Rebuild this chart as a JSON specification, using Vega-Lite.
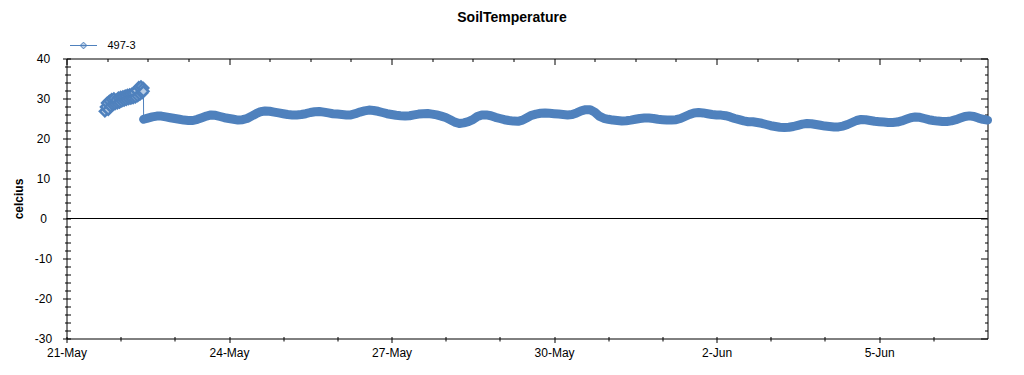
{
  "$schema": "https://vega.github.io/schema/vega-lite/v6.json",
  "width": 921,
  "height": 280,
  "autosize": {"type": "none"},
  "padding": {"left": 66.5, "top": 58.5, "right": 36.5, "bottom": 36.5},
  "background": "white",
  "config": {
    "view": {"stroke": "black", "strokeWidth": 1},
    "font": "Liberation Sans"
  },
  "title": {
    "text": "SoilTemperature",
    "font": "Liberation Sans",
    "fontSize": 14,
    "fontWeight": "bold",
    "color": "black",
    "anchor": "middle",
    "frame": "group",
    "dx": -15,
    "offset": 7
  },
  "data": {
    "values": [
      {"t": "2011-05-21T17:00", "v": 26.8}, {"t": "2011-05-21T17:30", "v": 27.9}, {"t": "2011-05-21T18:00", "v": 28.9}, {"t": "2011-05-21T18:30", "v": 27.2},
      {"t": "2011-05-21T19:00", "v": 29.4}, {"t": "2011-05-21T19:30", "v": 28.0}, {"t": "2011-05-21T20:00", "v": 29.8}, {"t": "2011-05-21T20:30", "v": 28.4},
      {"t": "2011-05-21T21:00", "v": 30.0}, {"t": "2011-05-21T21:30", "v": 28.6}, {"t": "2011-05-21T22:00", "v": 29.6}, {"t": "2011-05-21T22:30", "v": 28.8},
      {"t": "2011-05-21T23:00", "v": 30.2}, {"t": "2011-05-21T23:30", "v": 29.0}, {"t": "2011-05-22T00:00", "v": 30.4}, {"t": "2011-05-22T00:30", "v": 29.3},
      {"t": "2011-05-22T01:00", "v": 30.5}, {"t": "2011-05-22T01:30", "v": 29.5}, {"t": "2011-05-22T02:00", "v": 30.7}, {"t": "2011-05-22T02:30", "v": 29.7},
      {"t": "2011-05-22T03:00", "v": 30.9}, {"t": "2011-05-22T03:30", "v": 29.9}, {"t": "2011-05-22T04:00", "v": 31.0}, {"t": "2011-05-22T04:30", "v": 30.0},
      {"t": "2011-05-22T05:00", "v": 31.2}, {"t": "2011-05-22T05:30", "v": 30.1}, {"t": "2011-05-22T06:00", "v": 31.4}, {"t": "2011-05-22T06:30", "v": 30.3},
      {"t": "2011-05-22T07:00", "v": 32.0}, {"t": "2011-05-22T07:30", "v": 30.6}, {"t": "2011-05-22T08:00", "v": 32.8}, {"t": "2011-05-22T08:30", "v": 31.0},
      {"t": "2011-05-22T09:00", "v": 33.0}, {"t": "2011-05-22T09:30", "v": 31.4}, {"t": "2011-05-22T10:00", "v": 32.6}, {"t": "2011-05-22T10:05", "v": 31.8},
      {"t": "2011-05-22T10:10", "v": 24.8}, {"t": "2011-05-22T12:00", "v": 25.1}, {"t": "2011-05-22T14:00", "v": 25.4}, {"t": "2011-05-22T16:00", "v": 25.6},
      {"t": "2011-05-22T18:00", "v": 25.6}, {"t": "2011-05-22T20:00", "v": 25.4}, {"t": "2011-05-22T22:00", "v": 25.2},
      {"t": "2011-05-23T00:00", "v": 25.0}, {"t": "2011-05-23T02:00", "v": 24.8}, {"t": "2011-05-23T04:00", "v": 24.6}, {"t": "2011-05-23T06:00", "v": 24.5},
      {"t": "2011-05-23T08:00", "v": 24.5}, {"t": "2011-05-23T10:00", "v": 24.8}, {"t": "2011-05-23T12:00", "v": 25.2}, {"t": "2011-05-23T14:00", "v": 25.6},
      {"t": "2011-05-23T16:00", "v": 25.9}, {"t": "2011-05-23T18:00", "v": 25.8}, {"t": "2011-05-23T20:00", "v": 25.5}, {"t": "2011-05-23T22:00", "v": 25.2},
      {"t": "2011-05-24T00:00", "v": 25.0}, {"t": "2011-05-24T02:00", "v": 24.8}, {"t": "2011-05-24T04:00", "v": 24.6}, {"t": "2011-05-24T06:00", "v": 24.7},
      {"t": "2011-05-24T08:00", "v": 25.0}, {"t": "2011-05-24T10:00", "v": 25.6}, {"t": "2011-05-24T12:00", "v": 26.2}, {"t": "2011-05-24T14:00", "v": 26.7},
      {"t": "2011-05-24T16:00", "v": 26.9}, {"t": "2011-05-24T18:00", "v": 26.8}, {"t": "2011-05-24T20:00", "v": 26.6}, {"t": "2011-05-24T22:00", "v": 26.4},
      {"t": "2011-05-25T00:00", "v": 26.2}, {"t": "2011-05-25T02:00", "v": 26.0}, {"t": "2011-05-25T04:00", "v": 25.9}, {"t": "2011-05-25T06:00", "v": 25.9},
      {"t": "2011-05-25T08:00", "v": 26.0}, {"t": "2011-05-25T10:00", "v": 26.2}, {"t": "2011-05-25T12:00", "v": 26.5}, {"t": "2011-05-25T14:00", "v": 26.7},
      {"t": "2011-05-25T16:00", "v": 26.75}, {"t": "2011-05-25T18:00", "v": 26.6}, {"t": "2011-05-25T20:00", "v": 26.4}, {"t": "2011-05-25T22:00", "v": 26.2},
      {"t": "2011-05-26T00:00", "v": 26.1}, {"t": "2011-05-26T02:00", "v": 26.0}, {"t": "2011-05-26T04:00", "v": 25.9}, {"t": "2011-05-26T06:00", "v": 25.9},
      {"t": "2011-05-26T08:00", "v": 26.2}, {"t": "2011-05-26T10:00", "v": 26.6}, {"t": "2011-05-26T12:00", "v": 26.9}, {"t": "2011-05-26T14:00", "v": 27.1},
      {"t": "2011-05-26T16:00", "v": 27.0}, {"t": "2011-05-26T18:00", "v": 26.8}, {"t": "2011-05-26T20:00", "v": 26.5}, {"t": "2011-05-26T22:00", "v": 26.2},
      {"t": "2011-05-27T00:00", "v": 26.0}, {"t": "2011-05-27T02:00", "v": 25.8}, {"t": "2011-05-27T04:00", "v": 25.7}, {"t": "2011-05-27T06:00", "v": 25.65},
      {"t": "2011-05-27T08:00", "v": 25.7}, {"t": "2011-05-27T10:00", "v": 25.9}, {"t": "2011-05-27T12:00", "v": 26.1}, {"t": "2011-05-27T14:00", "v": 26.2},
      {"t": "2011-05-27T16:00", "v": 26.25}, {"t": "2011-05-27T18:00", "v": 26.1}, {"t": "2011-05-27T20:00", "v": 25.9}, {"t": "2011-05-27T22:00", "v": 25.6},
      {"t": "2011-05-28T00:00", "v": 25.25}, {"t": "2011-05-28T02:00", "v": 24.7}, {"t": "2011-05-28T04:00", "v": 24.1}, {"t": "2011-05-28T06:00", "v": 23.75},
      {"t": "2011-05-28T08:00", "v": 23.9}, {"t": "2011-05-28T10:00", "v": 24.2}, {"t": "2011-05-28T12:00", "v": 24.7}, {"t": "2011-05-28T14:00", "v": 25.5},
      {"t": "2011-05-28T16:00", "v": 25.9}, {"t": "2011-05-28T18:00", "v": 25.9}, {"t": "2011-05-28T20:00", "v": 25.7}, {"t": "2011-05-28T22:00", "v": 25.3},
      {"t": "2011-05-29T00:00", "v": 25.0}, {"t": "2011-05-29T02:00", "v": 24.7}, {"t": "2011-05-29T04:00", "v": 24.5}, {"t": "2011-05-29T06:00", "v": 24.35},
      {"t": "2011-05-29T08:00", "v": 24.3}, {"t": "2011-05-29T10:00", "v": 24.6}, {"t": "2011-05-29T12:00", "v": 25.2}, {"t": "2011-05-29T14:00", "v": 25.8},
      {"t": "2011-05-29T16:00", "v": 26.1}, {"t": "2011-05-29T18:00", "v": 26.3}, {"t": "2011-05-29T20:00", "v": 26.4}, {"t": "2011-05-29T22:00", "v": 26.3},
      {"t": "2011-05-30T00:00", "v": 26.2}, {"t": "2011-05-30T02:00", "v": 26.1}, {"t": "2011-05-30T04:00", "v": 26.0}, {"t": "2011-05-30T06:00", "v": 25.9},
      {"t": "2011-05-30T08:00", "v": 26.0}, {"t": "2011-05-30T10:00", "v": 26.4}, {"t": "2011-05-30T12:00", "v": 26.9}, {"t": "2011-05-30T14:00", "v": 27.2},
      {"t": "2011-05-30T16:00", "v": 27.2}, {"t": "2011-05-30T18:00", "v": 26.6}, {"t": "2011-05-30T20:00", "v": 25.6}, {"t": "2011-05-30T22:00", "v": 25.05},
      {"t": "2011-05-31T00:00", "v": 24.8}, {"t": "2011-05-31T02:00", "v": 24.6}, {"t": "2011-05-31T04:00", "v": 24.5}, {"t": "2011-05-31T06:00", "v": 24.4},
      {"t": "2011-05-31T08:00", "v": 24.45}, {"t": "2011-05-31T10:00", "v": 24.6}, {"t": "2011-05-31T12:00", "v": 24.8}, {"t": "2011-05-31T14:00", "v": 25.0},
      {"t": "2011-05-31T16:00", "v": 25.1}, {"t": "2011-05-31T18:00", "v": 25.1}, {"t": "2011-05-31T20:00", "v": 25.0}, {"t": "2011-05-31T22:00", "v": 24.8},
      {"t": "2011-06-01T00:00", "v": 24.7}, {"t": "2011-06-01T02:00", "v": 24.6}, {"t": "2011-06-01T04:00", "v": 24.6}, {"t": "2011-06-01T06:00", "v": 24.7},
      {"t": "2011-06-01T08:00", "v": 25.0}, {"t": "2011-06-01T10:00", "v": 25.5}, {"t": "2011-06-01T12:00", "v": 26.0}, {"t": "2011-06-01T14:00", "v": 26.4},
      {"t": "2011-06-01T16:00", "v": 26.5}, {"t": "2011-06-01T18:00", "v": 26.4}, {"t": "2011-06-01T20:00", "v": 26.2}, {"t": "2011-06-01T22:00", "v": 26.0},
      {"t": "2011-06-02T00:00", "v": 25.9}, {"t": "2011-06-02T02:00", "v": 25.85}, {"t": "2011-06-02T04:00", "v": 25.7}, {"t": "2011-06-02T06:00", "v": 25.4},
      {"t": "2011-06-02T08:00", "v": 25.0}, {"t": "2011-06-02T10:00", "v": 24.7}, {"t": "2011-06-02T12:00", "v": 24.4}, {"t": "2011-06-02T14:00", "v": 24.2},
      {"t": "2011-06-02T16:00", "v": 24.2}, {"t": "2011-06-02T18:00", "v": 24.0}, {"t": "2011-06-02T20:00", "v": 23.8}, {"t": "2011-06-02T22:00", "v": 23.5},
      {"t": "2011-06-03T00:00", "v": 23.2}, {"t": "2011-06-03T02:00", "v": 23.0}, {"t": "2011-06-03T04:00", "v": 22.8}, {"t": "2011-06-03T06:00", "v": 22.75},
      {"t": "2011-06-03T08:00", "v": 22.8}, {"t": "2011-06-03T10:00", "v": 23.0}, {"t": "2011-06-03T12:00", "v": 23.3}, {"t": "2011-06-03T14:00", "v": 23.6},
      {"t": "2011-06-03T16:00", "v": 23.75}, {"t": "2011-06-03T18:00", "v": 23.7}, {"t": "2011-06-03T20:00", "v": 23.5}, {"t": "2011-06-03T22:00", "v": 23.3},
      {"t": "2011-06-04T00:00", "v": 23.1}, {"t": "2011-06-04T02:00", "v": 23.0}, {"t": "2011-06-04T04:00", "v": 22.9}, {"t": "2011-06-04T06:00", "v": 22.9},
      {"t": "2011-06-04T08:00", "v": 23.1}, {"t": "2011-06-04T10:00", "v": 23.5}, {"t": "2011-06-04T12:00", "v": 24.0}, {"t": "2011-06-04T14:00", "v": 24.5},
      {"t": "2011-06-04T16:00", "v": 24.75}, {"t": "2011-06-04T18:00", "v": 24.7}, {"t": "2011-06-04T20:00", "v": 24.5}, {"t": "2011-06-04T22:00", "v": 24.3},
      {"t": "2011-06-05T00:00", "v": 24.2}, {"t": "2011-06-05T02:00", "v": 24.1}, {"t": "2011-06-05T04:00", "v": 24.0}, {"t": "2011-06-05T06:00", "v": 24.0},
      {"t": "2011-06-05T08:00", "v": 24.1}, {"t": "2011-06-05T10:00", "v": 24.4}, {"t": "2011-06-05T12:00", "v": 24.8}, {"t": "2011-06-05T14:00", "v": 25.2},
      {"t": "2011-06-05T16:00", "v": 25.4}, {"t": "2011-06-05T18:00", "v": 25.3}, {"t": "2011-06-05T20:00", "v": 25.0}, {"t": "2011-06-05T22:00", "v": 24.7},
      {"t": "2011-06-06T00:00", "v": 24.5}, {"t": "2011-06-06T02:00", "v": 24.35}, {"t": "2011-06-06T04:00", "v": 24.25}, {"t": "2011-06-06T06:00", "v": 24.25},
      {"t": "2011-06-06T08:00", "v": 24.4}, {"t": "2011-06-06T10:00", "v": 24.7}, {"t": "2011-06-06T12:00", "v": 25.1}, {"t": "2011-06-06T14:00", "v": 25.5},
      {"t": "2011-06-06T16:00", "v": 25.65}, {"t": "2011-06-06T18:00", "v": 25.5}, {"t": "2011-06-06T20:00", "v": 25.1}, {"t": "2011-06-06T22:00", "v": 24.8},
      {"t": "2011-06-07T00:00", "v": 24.6}
    ]
  },
  "layer": [
    {
      "data": {"values": [{}]},
      "mark": {"type": "rule", "color": "black", "strokeWidth": 1},
      "encoding": {
        "y": {"datum": 0, "type": "quantitative", "axis": null}
      }
    },
    {
      "mark": {"type": "line", "color": "#4f81bd", "strokeWidth": 1},
      "encoding": {
        "x": {
          "field": "t", "type": "temporal",
          "scale": {"domain": [{"year": 2011, "month": 5, "date": 21}, {"year": 2011, "month": 6, "date": 7}], "nice": false},
          "axis": {
            "orient": "bottom",
            "title": null,
            "domain": false,
            "grid": false,
            "offset": -2,
            "values": [
              {"year": 2011, "month": 5, "date": 21}, {"year": 2011, "month": 5, "date": 22}, {"year": 2011, "month": 5, "date": 23},
              {"year": 2011, "month": 5, "date": 24}, {"year": 2011, "month": 5, "date": 25}, {"year": 2011, "month": 5, "date": 26},
              {"year": 2011, "month": 5, "date": 27}, {"year": 2011, "month": 5, "date": 28}, {"year": 2011, "month": 5, "date": 29},
              {"year": 2011, "month": 5, "date": 30}, {"year": 2011, "month": 5, "date": 31}, {"year": 2011, "month": 6, "date": 1},
              {"year": 2011, "month": 6, "date": 2}, {"year": 2011, "month": 6, "date": 3}, {"year": 2011, "month": 6, "date": 4},
              {"year": 2011, "month": 6, "date": 5}, {"year": 2011, "month": 6, "date": 6}
            ],
            "tickColor": "black",
            "tickSize": {"condition": {"test": "abs(((datum.value - datetime(2011,4,21)) / 86400000) % 3) < 0.01", "value": 6}, "value": 4.5},
            "labelExpr": "abs(((datum.value - datetime(2011,4,21)) / 86400000) % 3) < 0.01 ? timeFormat(datum.value, '%-d-%b') : ''",
            "labelOverlap": false,
            "labelBound": false,
            "labelFlush": false,
            "labelPadding": 5,
            "labelFont": "Liberation Sans",
            "labelFontSize": 12,
            "labelColor": "black"
          }
        },
        "y": {
          "field": "v", "type": "quantitative",
          "scale": {"domain": [-30, 40], "nice": false, "zero": false},
          "axis": {
            "orient": "left",
            "values": [-30, -28, -26, -24, -22, -20, -18, -16, -14, -12, -10, -8, -6, -4, -2, 0, 2, 4, 6, 8, 10, 12, 14, 16, 18, 20, 22, 24, 26, 28, 30, 32, 34, 36, 38, 40],
            "domain": false,
            "grid": false,
            "offset": -4,
            "tickColor": "black",
            "tickSize": {"condition": {"test": "datum.value % 10 == 0", "value": 8}, "value": 6},
            "labelExpr": "datum.value % 10 == 0 ? '' + datum.value : ''",
            "labelOverlap": false,
            "labelBound": false,
            "labelFlush": false,
            "labelAlign": "center",
            "labelPadding": 19.5,
            "labelFont": "Liberation Sans",
            "labelFontSize": 12,
            "labelColor": "black",
            "title": "celcius",
            "titleFont": "Liberation Sans",
            "titleFontSize": 12,
            "titleFontWeight": "bold",
            "titleColor": "black",
            "titlePadding": 9
          }
        }
      }
    },
    {
      "transform": [{"filter": {"field": "t", "gte": {"year": 2011, "month": 5, "date": 22, "hours": 10, "minutes": 8}}}],
      "mark": {"type": "line", "color": "#4f81bd", "strokeWidth": 9, "strokeJoin": "round", "strokeCap": "round"},
      "encoding": {
        "x": {
          "field": "t", "type": "temporal",
          "axis": {
            "orient": "top",
            "title": null,
            "domain": false,
            "grid": false,
            "labels": false,
            "values": [
              {"year": 2011, "month": 5, "date": 21, "hours": 0}, {"year": 2011, "month": 5, "date": 21, "hours": 18},
              {"year": 2011, "month": 5, "date": 22, "hours": 12}, {"year": 2011, "month": 5, "date": 23, "hours": 6},
              {"year": 2011, "month": 5, "date": 24, "hours": 0}, {"year": 2011, "month": 5, "date": 24, "hours": 18},
              {"year": 2011, "month": 5, "date": 25, "hours": 12}, {"year": 2011, "month": 5, "date": 26, "hours": 6},
              {"year": 2011, "month": 5, "date": 27, "hours": 0}, {"year": 2011, "month": 5, "date": 27, "hours": 18},
              {"year": 2011, "month": 5, "date": 28, "hours": 12}, {"year": 2011, "month": 5, "date": 29, "hours": 6},
              {"year": 2011, "month": 5, "date": 30, "hours": 0}, {"year": 2011, "month": 5, "date": 30, "hours": 18},
              {"year": 2011, "month": 5, "date": 31, "hours": 12}, {"year": 2011, "month": 6, "date": 1, "hours": 6},
              {"year": 2011, "month": 6, "date": 2, "hours": 0}, {"year": 2011, "month": 6, "date": 2, "hours": 18},
              {"year": 2011, "month": 6, "date": 3, "hours": 12}, {"year": 2011, "month": 6, "date": 4, "hours": 6},
              {"year": 2011, "month": 6, "date": 5, "hours": 0}, {"year": 2011, "month": 6, "date": 5, "hours": 18},
              {"year": 2011, "month": 6, "date": 6, "hours": 12}
            ],
            "tickColor": "black",
            "tickSize": {"condition": {"test": "abs(((datum.value - datetime(2011,4,21)) / 86400000) % 3) < 0.01", "value": -6}, "value": -3}
          }
        },
        "y": {
          "field": "v", "type": "quantitative",
          "axis": {
            "orient": "right",
            "title": null,
            "domain": false,
            "grid": false,
            "labels": false,
            "values": [-30, -28, -26, -24, -22, -20, -18, -16, -14, -12, -10, -8, -6, -4, -2, 0, 2, 4, 6, 8, 10, 12, 14, 16, 18, 20, 22, 24, 26, 28, 30, 32, 34, 36, 38, 40],
            "tickColor": "black",
            "tickSize": {"condition": {"test": "datum.value % 10 == 0", "value": -7}, "value": -3}
          }
        }
      }
    },
    {
      "transform": [{"filter": {"field": "t", "lt": {"year": 2011, "month": 5, "date": 22, "hours": 10, "minutes": 8}}}],
      "mark": {"type": "point", "shape": "diamond", "filled": true, "size": 100, "opacity": 1, "stroke": "#4f81bd", "strokeWidth": 2.5},
      "encoding": {
        "x": {"field": "t", "type": "temporal", "axis": null},
        "y": {"field": "v", "type": "quantitative", "axis": null},
        "fill": {
          "datum": "497-3",
          "type": "nominal",
          "scale": {"range": ["#b9cde5"]},
          "legend": {
            "title": null,
            "orient": "none",
            "legendX": 3,
            "legendY": -27,
            "symbolType": "M-1,0L1,0M0,-0.25L0.25,0L0,0.25L-0.25,0Z",
            "symbolSize": 729,
            "symbolStrokeColor": "#4f81bd",
            "symbolStrokeWidth": 1,
            "labelOffset": 10,
            "labelFont": "Liberation Sans",
            "labelFontSize": 11,
            "labelColor": "black",
            "padding": 0
          }
        }
      }
    }
  ],
  "resolve": {"axis": {"x": "independent", "y": "independent"}}
}
